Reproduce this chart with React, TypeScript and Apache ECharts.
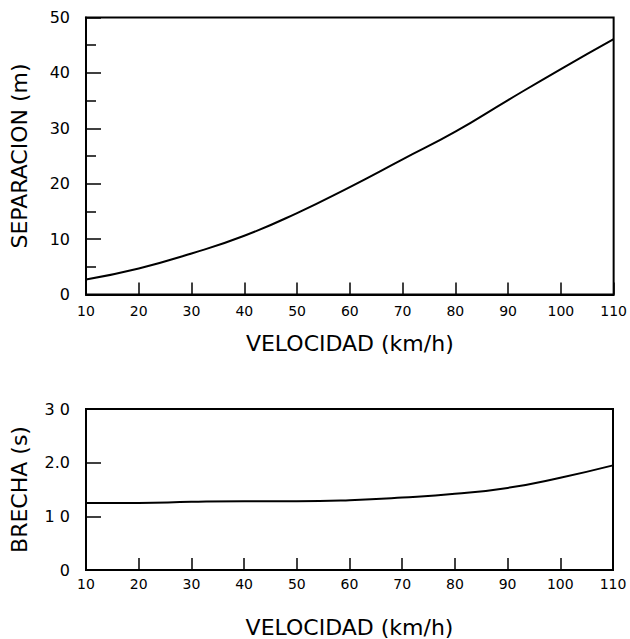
import React, { useEffect, useRef } from "react";
import * as echarts from "echarts";

const speeds = [10, 20, 30, 40, 50, 60, 70, 80, 90, 100, 110];
const separation = [2.7, 4.7, 7.4, 10.6, 14.7, 19.4, 24.4, 29.4, 35.1, 40.7, 46.1];
const gap = [1.25, 1.25, 1.27, 1.28, 1.28, 1.3, 1.35, 1.42, 1.53, 1.72, 1.95];
const gapTickLabels: Record<string, string> = { "0": "0", "1": "1 0", "2": "2.0", "3": "3 0" };
const xTitle = "VELOCIDAD (km/h)";
const yTitleTop = "SEPARACION (m)";
const yTitleBottom = "BRECHA (s)";

const titleFont = { fontFamily: "DejaVu Sans", fontSize: 22, color: "#000" };
const tickFont = { fontFamily: "DejaVu Sans", fontSize: 14, color: "#000" };

export default function App() {
  const ref = useRef<HTMLDivElement>(null);
  useEffect(() => {
    if (!ref.current) return;
    const chart = echarts.init(ref.current, undefined, { renderer: "svg" });
    const xAxisBase = (gridIndex: number, nameGap: number, labelMargin: number) => ({
      type: "value" as const,
      gridIndex,
      min: 10,
      max: 110,
      interval: 10,
      name: xTitle,
      nameLocation: "middle" as const,
      nameGap,
      nameTextStyle: titleFont,
      axisLine: { show: true, lineStyle: { color: "#000", width: 2 } },
      axisTick: { show: true, inside: true, length: 12, lineStyle: { color: "#000", width: 1.5 } },
      axisLabel: { ...tickFont, margin: labelMargin },
      splitLine: { show: false },
    });
    chart.setOption({
      animation: false,
      backgroundColor: "#fff",
      grid: [
        { left: 76, top: 17.5, width: 538, height: 277, show: true, borderColor: "#000", borderWidth: 2, backgroundColor: "transparent" },
        { left: 76, top: 409, width: 537, height: 164, show: true, borderColor: "#000", borderWidth: 2, backgroundColor: "transparent" },
      ],
      xAxis: [xAxisBase(0, 38, 9), xAxisBase(1, 46, 7)],
      yAxis: [
        {
          type: "value",
          gridIndex: 0,
          min: 0,
          max: 50,
          interval: 10,
          name: yTitleTop,
          nameLocation: "middle",
          nameGap: 56,
          nameTextStyle: titleFont,
          axisLine: { show: true, lineStyle: { color: "#000", width: 2 } },
          axisTick: { show: true, inside: true, length: 15, lineStyle: { color: "#000", width: 1.5 } },
          minorTick: { show: true, splitNumber: 2, length: 10, lineStyle: { color: "#000", width: 1.5 } },
          axisLabel: { ...tickFont, fontSize: 16, margin: 16 },
          splitLine: { show: false },
          minorSplitLine: { show: false },
        },
        {
          type: "value",
          gridIndex: 1,
          min: 0,
          max: 3,
          interval: 1,
          name: yTitleBottom,
          nameLocation: "middle",
          nameGap: 56,
          nameTextStyle: titleFont,
          axisLine: { show: true, lineStyle: { color: "#000", width: 2 } },
          axisTick: { show: true, inside: true, length: 15, lineStyle: { color: "#000", width: 1.5 } },
          axisLabel: {
            ...tickFont,
            fontSize: 16,
            margin: 16,
            formatter: (v: number) => gapTickLabels[String(v)] ?? String(v),
          },
          splitLine: { show: false },
        },
      ],
      series: [
        {
          type: "line",
          xAxisIndex: 0,
          yAxisIndex: 0,
          data: speeds.map((s, i) => [s, separation[i]]),
          smooth: true,
          showSymbol: false,
          lineStyle: { color: "#000", width: 2 },
        },
        {
          type: "line",
          xAxisIndex: 1,
          yAxisIndex: 1,
          data: speeds.map((s, i) => [s, gap[i]]),
          smooth: true,
          showSymbol: false,
          lineStyle: { color: "#000", width: 2 },
        },
      ],
    });
    return () => chart.dispose();
  }, []);
  return <div ref={ref} style={{ position: "fixed", left: 0, top: 0, width: 630, height: 639 }} />;
}
